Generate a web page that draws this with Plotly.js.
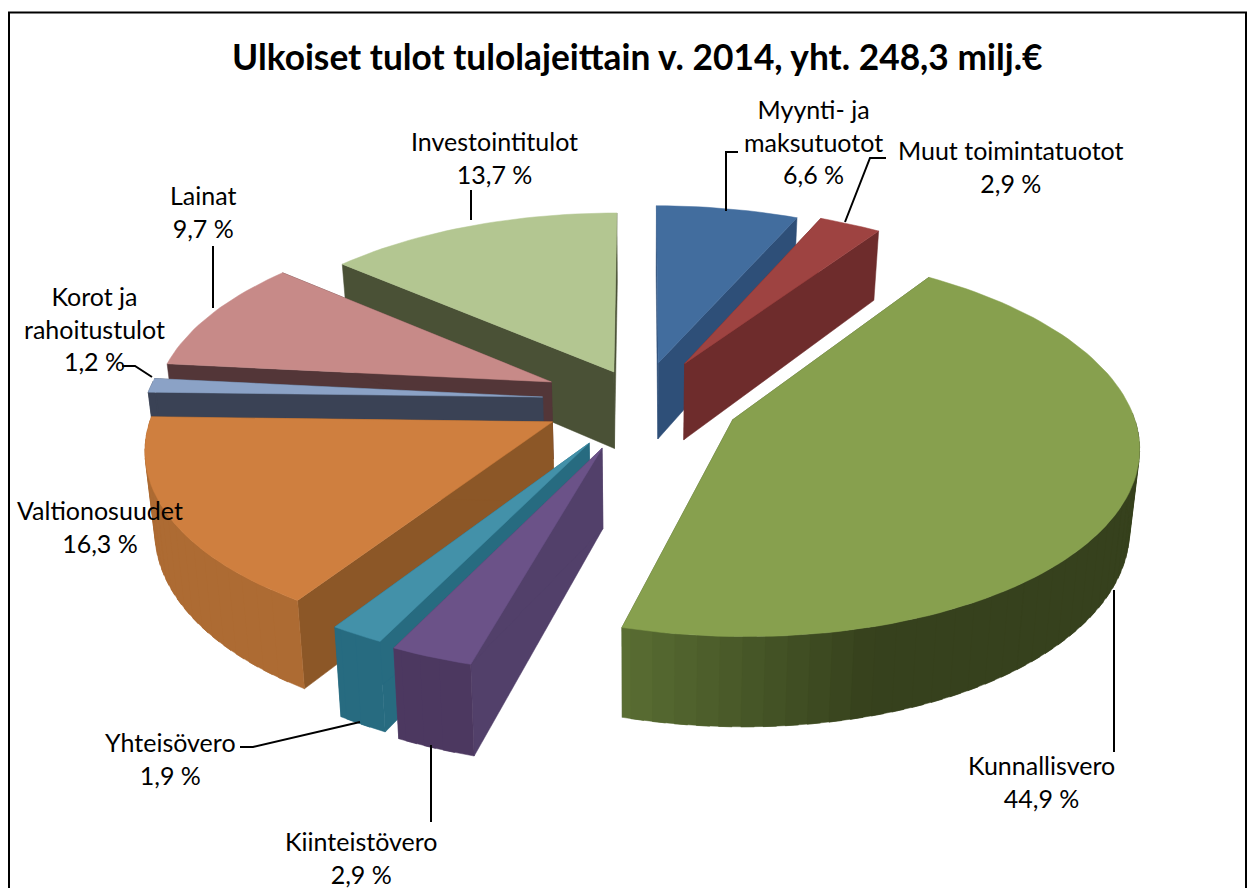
<!DOCTYPE html>
<html><head><meta charset="utf-8">
<script src="https://cdn.plot.ly/plotly-3.0.1.min.js"></script>
<style>html,body{margin:0;padding:0;background:#fff}#c{width:1255px;height:888px}</style>
</head><body><div id="c"></div>
<script>
const categories = ["Myynti- ja<br>maksutuotot","Muut toimintatuotot","Kunnallisvero","Kiinteistövero","Yhteisövero","Valtionosuudet","Korot ja<br>rahoitustulot","Lainat","Investointitulot"];
const shares = [6.6,2.9,44.9,2.9,1.9,16.3,1.2,9.7,13.7];
const pulls  = [0.21,0.23,0.25,0.27,0.26,0.25,0.25,0.25,0.17];
const topColors = ["#426D9E","#9E4341","#87A04E","#6B5288","#4391A9","#CF7F3F","#8BA2C6","#C78A88","#B3C691"];
const cutColors = ["#2E4F78","#6E2C2C","#4A5A2A","#52406A","#276B80","#8C5727","#3A4255","#533638","#4A5136"];
const rimStart  = ["#2E4F78","#6E2C2C","#36411D","#4A3660","#276B80","#A86832","#3A4255","#533638","#4A5136"];
const rimEnd    = ["#2E4F78","#6E2C2C","#5A6E33","#4C3860","#276B80","#AD6B33","#3A4255","#533638","#4A5136"];
const drawOrder = [8,0,1,7,6,5,4,3,2];
const labelX = [813,1011,1041,361,170,100,94,203,494];
const labelY = [141.5,166.5,781.5,857,758.5,526.5,328.5,211.5,157.5];
const leaders = [
 [[738,726,726],[152,152,211]],
 [[886,870,845],[158,158,222]],
 [[1114,1114],[590,752]],
 [[431,431],[745,822]],
 [[240,253,360],[747,747,722]],
 [[122,135,152],[366,366,377]],
 [[213,213],[246,308]],
 [[471,471],[190,220]]
];
const titleText = "Ulkoiset tulot tulolajeittain v. 2014, yht. 248,3 milj.€";

const CX=641.5, CY=400, RX=397, RY=185, PERSP=0.123, DEPTH=78, SHRINK=0.98;
function project(u,v,bottom){
  const w=1/(1-PERSP*v);
  let x=CX+RX*u*w, y=CY+RY*v*w;
  if(bottom){ x=CX+(x-CX)*SHRINK; y+=DEPTH*w; }
  return [x,y];
}
function hex(c){return [1,3,5].map(i=>parseInt(c.substr(i,2),16));}
function mix(a,b,t){const A=hex(a),B=hex(b);return "rgb("+A.map((n,i)=>Math.round(n+(B[i]-n)*t)).join(",")+")";}
function poly(pts,color,name){
  const xs=pts.map(p=>p[0]).concat(pts[0][0]), ys=pts.map(p=>p[1]).concat(pts[0][1]);
  return {type:"scatter",mode:"lines",x:xs,y:ys,fill:"toself",fillcolor:color,line:{color:color,width:0.5},
    name:name,hoverinfo:"name",showlegend:false};
}
let cum=0; const starts=shares.map(s=>{const a=cum;cum+=s;return a;});
const total=cum;
const traces=[];
drawOrder.forEach(i=>{
  const a0=starts[i]/total*2*Math.PI, a1=(starts[i]+shares[i])/total*2*Math.PI, mid=(a0+a1)/2;
  const name=categories[i].replace("<br>"," ");
  const ou=pulls[i]*Math.sin(mid), ov=-pulls[i]*Math.cos(mid);
  const pt=(a,bottom)=>project(ou+Math.sin(a),ov-Math.cos(a),bottom);
  const apexT=project(ou,ov,false), apexB=project(ou,ov,true);
  traces.push(poly([apexT,pt(a0,false),pt(a0,true),apexB],cutColors[i],name));
  traces.push(poly([apexT,pt(a1,false),pt(a1,true),apexB],cutColors[i],name));
  const n=Math.max(2,Math.ceil((a1-a0)/0.05));
  const step=(a1-a0)/n;
  for(let k=n-1;k>=0;k--){
    const b0=a0+step*k, b1=Math.min(a1,b0+step*1.6), c=b0+step/2;
    if(-Math.cos(c)<-0.05) continue;
    const t=Math.max(0,Math.min(1,(0.3-Math.sin(c))/0.55));
    traces.push(poly([pt(b0,false),pt(b1,false),pt(b1,true),pt(b0,true)],mix(rimStart[i],rimEnd[i],t),name));
  }
  const top=[apexT];
  const m=Math.ceil((a1-a0)/0.03);
  for(let k=0;k<=m;k++) top.push(pt(a0+(a1-a0)*k/m,false));
  traces.push(poly(top,topColors[i],name+" "+String(shares[i]).replace(".",",")+" %"));
});
leaders.forEach(l=>traces.push({type:"scatter",mode:"lines",x:l[0],y:l[1],line:{color:"#000",width:2},hoverinfo:"skip",showlegend:false}));
const annotations=categories.map((c,i)=>({x:labelX[i],y:labelY[i],xref:"x",yref:"y",showarrow:false,align:"center",
  text:c+"<br>"+String(shares[i].toFixed(1)).replace(".",",")+" %",font:{family:"Lato, sans-serif",size:25,color:"#000"}}));
annotations.push({x:637,y:56,xref:"x",yref:"y",showarrow:false,text:"<b>"+titleText+"</b>",font:{family:"Lato, sans-serif",size:35.3,color:"#000"}});
const layout={width:1255,height:888,margin:{l:0,r:0,t:0,b:0},paper_bgcolor:"#fff",plot_bgcolor:"#fff",showlegend:false,
  xaxis:{range:[0,1255],visible:false,fixedrange:true},yaxis:{range:[888,0],visible:false,fixedrange:true},
  annotations:annotations,
  shapes:[{type:"path",xref:"x",yref:"y",path:"M9,888 L9,12.5 L1246,12.5 L1246,888",line:{color:"#000",width:2}}]};
Plotly.newPlot("c",traces,layout,{displayModeBar:false});
</script></body></html>
